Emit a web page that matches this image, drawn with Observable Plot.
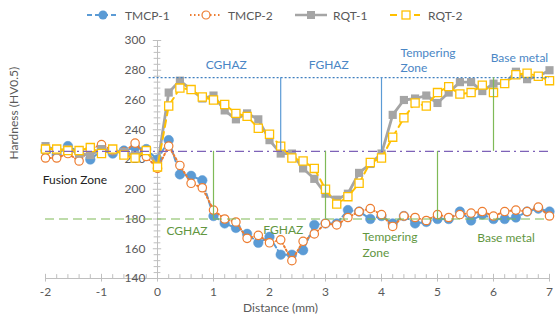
<!DOCTYPE html>
<html><head><meta charset="utf-8">
<script src="https://cdn.jsdelivr.net/npm/d3@7"></script>
<script src="https://cdn.jsdelivr.net/npm/@observablehq/plot@0.6"></script>
<style>
body{margin:0;background:#fff;font-family:Lato,"Open Sans",sans-serif;}
#wrap{width:556px;height:320px;position:relative;overflow:hidden;background:#fff}
#legend{position:relative;height:28px;width:556px}
.li{position:absolute;top:6px;height:18px;display:flex;align-items:center;font-size:12px;color:#595959}
.li svg{margin-right:3px}
</style></head><body>
<div id="wrap"><div id="legend"></div><div id="chart"></div></div>
<script>
// ---- data ----
const distance = [-2,-1.8,-1.6,-1.4,-1.2,-1,-0.8,-0.6,-0.4,-0.2,0,0.2,0.4,0.6,0.8,1,1.2,1.4,1.6,1.8,2,2.2,2.4,2.6,2.8,3,3.2,3.4,3.6,3.8,4,4.2,4.4,4.6,4.8,5,5.2,5.4,5.6,5.8,6,6.2,6.4,6.6,6.8,7];
const tmcp1 = [226,223,229,225,220,226,224,226,228,227,220,233,210,209,206,182,177,174,170,164,168,156,156,159,176,177,177,186,185,180,182,177,182,177,178,180,180,185,179,183,180,180,181,185,187,185];
const tmcp2 = [221,221,224,219,227,230,226,225,231,222,214,229,216,204,201,186,180,178,167,169,164,166,152,165,170,177,176,181,185,187,183,175,182,181,179,183,181,183,184,185,182,185,186,185,188,182];
const rqt1  = [229,226,227,224,223,227,226,225,223,226,216,265,273,267,261,263,253,247,251,247,233,224,224,214,207,197,193,197,211,217,224,250,260,261,263,258,265,272,272,266,271,271,279,274,276,280];
const rqt2  = [227,227,226,226,228,224,227,223,221,226,215,256,268,267,262,260,257,251,249,241,237,229,221,219,214,200,190,195,204,218,221,235,248,258,256,265,269,264,265,270,265,271,277,278,276,273];
const seriesNames = ["TMCP-1","TMCP-2","RQT-1","RQT-2"];
const xMajor = [-2,-1,0,1,2,3,4,5,6,7];
const yMajor = [140,160,180,200,220,240,260,280,300];
const yMinor = [144,148,152,156,164,168,172,176,184,188,192,196,204,208,212,216,224,228,232,236,244,248,252,256,264,268,272,276,284,288,292,296];
// zone boundary levels and annotation texts
const levelTop = 275, levelMid = 225.5, levelLow = 180;
const upperBounds = [2.2, 4];
const upperGreen = [6];
const lowerBounds = [1, 3, 5];
const blueLabels = [
  {x:0.86, y:284.5, t:"CGHAZ"},
  {x:2.70, y:284.5, t:"FGHAZ"},
  {x:4.34, y:287.2, t:"Tempering\nZone"},
  {x:5.95, y:289.2, t:"Base metal"}
];
const greenLabels = [
  {x:0.16, y:172.9, t:"CGHAZ"},
  {x:1.89, y:173.6, t:"FGHAZ"},
  {x:3.66, y:163.2, t:"Tempering\nZone"},
  {x:5.71, y:167.6, t:"Base metal"}
];
const blackLabels = [{x:-2.05, y:205.9, t:"Fusion Zone"}];

// ---- styles ----
const C = {t1:"#5b9bd5", t2:"#ed7d31", r1:"#a5a5a5", r2:"#ffc000", axis:"#bfbfbf", txt:"#595959",
  blueTxt:"#4a86c5", greenTxt:"#62963f", green:"#7fba57", purple:"#7e62b8", dotBlue:"#3f7fbf"};

// ---- legend ----
const legendItems = [
  {name:seriesNames[0], left:86, sw:`<line x1="1" x2="33" y1="7" y2="7" stroke="${C.t1}" stroke-width="2" stroke-dasharray="5,3"/><circle cx="17" cy="7" r="4.5" fill="${C.t1}"/>`},
  {name:seriesNames[1], left:189, sw:`<line x1="1" x2="31" y1="7" y2="7" stroke="${C.t2}" stroke-width="2" stroke-dasharray="1.5,2.5"/><circle cx="17" cy="7" r="4" fill="#fff" stroke="${C.t2}" stroke-width="1.2"/>`},
  {name:seriesNames[2], left:294, sw:`<line x1="1" x2="33" y1="7" y2="7" stroke="${C.r1}" stroke-width="2.5"/><rect x="13" y="3" width="8" height="8" fill="${C.r1}"/>`},
  {name:seriesNames[3], left:389, sw:`<line x1="1" x2="31" y1="7" y2="7" stroke="${C.r2}" stroke-width="2" stroke-dasharray="7,5"/><rect x="13" y="3" width="8" height="8" fill="#fff" stroke="${C.r2}" stroke-width="1.3"/>`}
];
const leg = document.getElementById("legend");
legendItems.forEach(it => {
  const d = document.createElement("div");
  d.className = "li"; d.style.left = it.left + "px";
  d.innerHTML = `<svg width="36" height="14">${it.sw}</svg><span>${it.name}</span>`;
  leg.appendChild(d);
});

// ---- chart ----
const xi = (d,i) => distance[i];
const yv = d => d;
const chart = Plot.plot({
  width:556, height:292, marginTop:12, marginBottom:42, marginLeft:45, marginRight:7,
  x:{domain:[-2,7], axis:null}, y:{domain:[140,300], axis:null},
  style:{fontFamily:"Lato, 'Open Sans', sans-serif", fontSize:"12px", color:C.txt, background:"#fff"},
  marks:[
    // axes
    Plot.ruleY([140], {stroke:C.axis}),
    Plot.ruleX(distance, {y1:140, y2:142.6, stroke:C.axis}),
    Plot.ruleX(xMajor, {y1:137.6, y2:142.8, stroke:C.axis}),
    Plot.ruleX([0], {y1:140, y2:300, stroke:C.axis}),
    Plot.ruleY(yMinor, {x1:-0.06, x2:0.06, stroke:C.axis}),
    Plot.ruleY(yMajor, {x1:-0.075, x2:0.075, stroke:C.axis}),
    Plot.text(xMajor, {x:d=>d, frameAnchor:"bottom", dy:17, fill:C.txt}),
    Plot.text(yMajor, {x:0, y:d=>d, dx:-12, textAnchor:"end", fill:C.txt}),
    Plot.text(["Distance (mm)"], {frameAnchor:"bottom", dy:33, dx:-17, fill:C.txt}),
    Plot.text(["Hardness (HV0.5)"], {frameAnchor:"left", rotate:-90, dx:-31, fill:C.txt}),
    // series
    Plot.line(tmcp1, {x:xi, y:yv, stroke:C.t1, strokeWidth:2, strokeDasharray:"5,3"}),
    Plot.dot(tmcp1, {x:xi, y:yv, r:4.8, fill:C.t1, stroke:C.t1, strokeWidth:0.5}),
    Plot.line(tmcp2, {x:xi, y:yv, stroke:C.t2, strokeWidth:2, strokeDasharray:"1.5,2.5"}),
    Plot.dot(tmcp2, {x:xi, y:yv, r:4.2, fill:"#fff", stroke:C.t2, strokeWidth:1.2}),
    Plot.line(rqt1, {x:xi, y:yv, stroke:C.r1, strokeWidth:2.8}),
    Plot.dot(rqt1, {x:xi, y:yv, r:4.6, symbol:"square", fill:C.r1}),
    Plot.line(rqt2, {x:xi, y:yv, stroke:C.r2, strokeWidth:2, strokeDasharray:"7,5"}),
    Plot.dot(rqt2, {x:xi, y:yv, r:4.6, symbol:"square", fill:"#fff", stroke:C.r2, strokeWidth:1.3}),
    // zone annotations
    Plot.ruleY([levelTop], {x1:-0.15, x2:7, stroke:C.dotBlue, strokeDasharray:"2,2", strokeWidth:1.2}),
    Plot.ruleY([levelMid], {x1:-2, x2:7, stroke:C.purple, strokeDasharray:"9,4,2,4", strokeWidth:1.3}),
    Plot.ruleY([levelLow], {x1:-2, x2:7, stroke:C.green, strokeDasharray:"9,5", strokeWidth:1.2}),
    Plot.ruleX(upperBounds, {y1:levelMid, y2:levelTop, stroke:C.t1, strokeWidth:1.2}),
    Plot.ruleX(upperGreen, {y1:levelMid, y2:levelTop, stroke:C.green, strokeWidth:1.2}),
    Plot.ruleX(lowerBounds, {y1:levelLow, y2:levelMid, stroke:C.green, strokeWidth:1.2}),
    Plot.text(blueLabels, {x:"x", y:"y", text:"t", textAnchor:"start", fill:C.blueTxt, lineHeight:1.3}),
    Plot.text(greenLabels, {x:"x", y:"y", text:"t", textAnchor:"start", fill:C.greenTxt, lineHeight:1.3}),
    Plot.text(blackLabels, {x:"x", y:"y", text:"t", textAnchor:"start", fill:"#222"})
  ]
});
document.getElementById("chart").appendChild(chart);
</script>
</body></html>
